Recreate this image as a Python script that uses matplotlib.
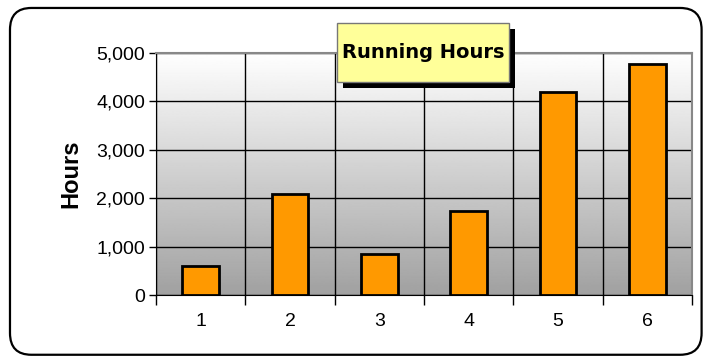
import numpy as np
import matplotlib.pyplot as plt
from matplotlib.patches import Rectangle, FancyBboxPatch
from matplotlib.ticker import FuncFormatter, MultipleLocator


categories = [1, 2, 3, 4, 5, 6]
hours = [600, 2080, 840, 1730, 4190, 4770]
y_ticks = [0, 1000, 2000, 3000, 4000, 5000]


def main():
    fig = plt.figure(figsize=(7.13, 3.62), dpi=100)
    ax = fig.add_axes([0.219, 0.185, 0.7515, 0.669])

    # gradient background of the plot area
    grad = np.linspace(1.0, 0.63, 256).reshape(-1, 1)
    ax.imshow(grad, cmap='gray', vmin=0, vmax=1, aspect='auto',
              extent=[0, 1, 0, 1], transform=ax.transAxes, zorder=0)

    x = np.arange(len(categories)) + 1
    ax.bar(x, hours, width=0.41, color='#ff9900', edgecolor='black',
           linewidth=2, zorder=3)

    ax.set_xlim(0.5, len(categories) + 0.5)
    ax.set_ylim(0, 5000)
    ax.set_yticks(y_ticks)
    ax.yaxis.set_major_formatter(FuncFormatter(lambda v, p: f'{int(v):,}'))
    ax.set_xticks(x)
    ax.set_xticklabels([str(c) for c in categories])
    ax.xaxis.set_minor_locator(MultipleLocator(1, offset=0.5))

    ax.tick_params(axis='x', which='major', length=0, pad=13, labelsize=14)
    ax.tick_params(axis='x', which='minor', length=7, width=1, direction='out')
    ax.tick_params(axis='y', length=5, width=1, direction='out', pad=3,
                   labelsize=14)

    ax.grid(axis='y', which='major', color='black', linewidth=1, zorder=1)
    ax.grid(axis='x', which='minor', color='black', linewidth=1, zorder=1)
    ax.set_axisbelow(True)

    for side in ['top', 'right']:
        ax.spines[side].set_color('#888888')
        ax.spines[side].set_linewidth(1.5)
    for side in ['left', 'bottom']:
        ax.spines[side].set_color('black')

    ax.set_ylabel('Hours', fontsize=17, fontweight='bold', labelpad=10,
                  family='Liberation Sans')
    for lbl in ax.get_xticklabels() + ax.get_yticklabels():
        lbl.set_family('Liberation Sans')

    # title box with shadow
    bx, by, bw, bh = 0.4727, 0.7735, 0.2412, 0.163
    fig.patches.append(Rectangle((bx + 0.0084, by - 0.0166), bw, bh,
                                 transform=fig.transFigure, facecolor='black',
                                 edgecolor='none', zorder=5))
    fig.patches.append(Rectangle((bx, by), bw, bh, transform=fig.transFigure,
                                 facecolor='#ffff99', edgecolor='#777777',
                                 linewidth=1, zorder=6))
    fig.text(bx + bw / 2, by + bh / 2, 'Running Hours', ha='center',
             va='center', fontsize=14, fontweight='bold', family='DejaVu Sans',
             zorder=7)

    # rounded outer border
    fig.patches.append(FancyBboxPatch((0.014, 0.02), 0.97, 0.958,
                                      boxstyle='round,pad=0,rounding_size=0.03',
                                      transform=fig.transFigure, fill=False,
                                      edgecolor='black', linewidth=1.6,
                                      mutation_aspect=2.0))

    fig.savefig('out.png', dpi=100)


if __name__ == '__main__':
    main()
